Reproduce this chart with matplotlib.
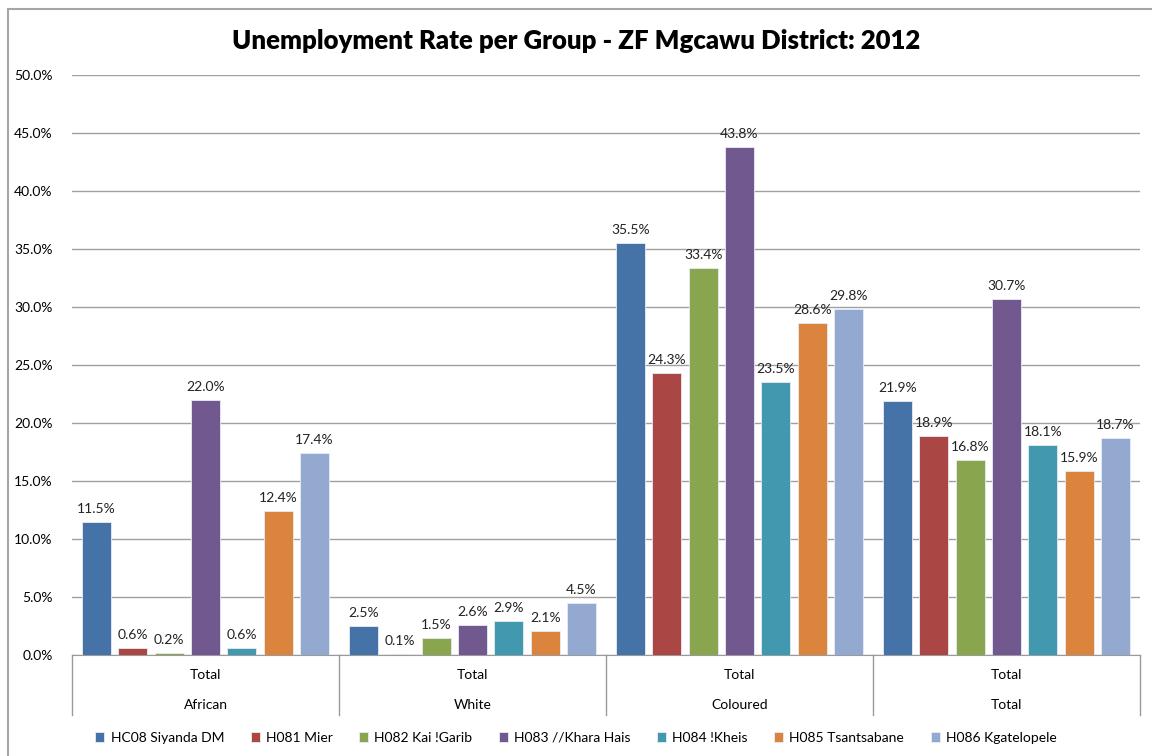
import numpy as np
import matplotlib.pyplot as plt
from matplotlib.patches import Rectangle
from matplotlib.lines import Line2D

plt.rcParams['font.family'] = ['Lato', 'DejaVu Sans']

groups = ["African", "White", "Coloured", "Total"]
sub_label = "Total"
series = ["HC08 Siyanda DM", "H081 Mier", "H082 Kai !Garib", "H083 //Khara Hais",
          "H084 !Kheis", "H085 Tsantsabane", "H086 Kgatelopele"]
colors = ["#4572A7", "#AA4643", "#89A54E", "#71588F", "#4198AF", "#DB843D", "#93A9CF"]

siyanda = [11.5, 2.5, 35.5, 21.9]
mier = [0.6, 0.1, 24.3, 18.9]
kai_garib = [0.2, 1.5, 33.4, 16.8]
khara_hais = [22.0, 2.6, 43.8, 30.7]
kheis = [0.6, 2.9, 23.5, 18.1]
tsantsabane = [12.4, 2.1, 28.6, 15.9]
kgatelopele = [17.4, 4.5, 29.8, 18.7]
values = [siyanda, mier, kai_garib, khara_hais, kheis, tsantsabane, kgatelopele]

W, H = 1152, 756
fig = plt.figure(figsize=(W / 100, H / 100), dpi=100)
ax = fig.add_axes([72 / W, 1 - 655 / H, (1140 - 72) / W, (655 - 75) / H])

# outer chart border (cropped on right/bottom)
fig.patches.append(Rectangle((8 / W, -0.05), 1.2, 1 - 9 / H + 0.05, transform=fig.transFigure,
                             fill=False, edgecolor="#a6a6a6", linewidth=1.5, zorder=0))

slot = 0.136
bw = 0.108
centers = np.arange(len(groups)) + 0.5
for i, (name, vals, c) in enumerate(zip(series, values, colors)):
    x = centers + (i - 3) * slot
    ax.bar(x, vals, width=bw, color=c, edgecolor="#e8ecf4", linewidth=0.6, label=name, zorder=3)
    for xi, v in zip(x, vals):
        ax.text(xi, v + 0.6, f"{v:.1f}%", ha="center", va="bottom", fontsize=10, color="#222222", zorder=4)

ax.set_xlim(0, len(groups))
ax.set_ylim(0, 50)
ax.set_yticks(np.arange(0, 50.1, 5))
ax.set_yticklabels([f"{t:.1f}%" for t in np.arange(0, 50.1, 5)], fontsize=10)
ax.tick_params(axis="y", length=0, pad=14)
ax.grid(axis="y", color="#a0a0a0", linewidth=1, zorder=0)
ax.set_xticks([])
for s in ["top", "right", "left"]:
    ax.spines[s].set_visible(False)
ax.spines["bottom"].set_color("#9a9a9a")

# two-level category axis
for k in range(len(groups) + 1):
    ax.add_line(Line2D([k, k], [0, -60 / 580 * 50], color="#9a9a9a", linewidth=1, clip_on=False))
for k, g in enumerate(groups):
    ax.text(k + 0.5, -20 / 580 * 50, sub_label, ha="center", va="center", fontsize=10, clip_on=False)
    ax.text(k + 0.5, -50 / 580 * 50, g, ha="center", va="center", fontsize=10, clip_on=False)

fig.text(0.5, 1 - 41 / H, "Unemployment Rate per Group - ZF Mgcawu District: 2012",
         ha="center", va="center", fontsize=18.5, fontweight="heavy")

fig.legend(loc="center", bbox_to_anchor=(0.5, 1 - 738 / H), ncol=7, frameon=False, fontsize=10,
           handlelength=0.65, handleheight=0.65, handletextpad=0.45, columnspacing=1.9)

fig.savefig("out.png", dpi=100)
